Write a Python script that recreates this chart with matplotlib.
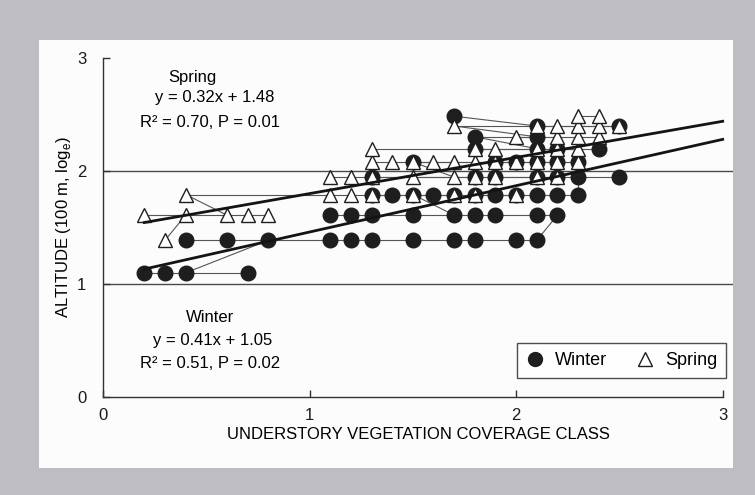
import numpy as np
import matplotlib
matplotlib.use("Agg")
import matplotlib.pyplot as plt
from matplotlib.lines import Line2D
from matplotlib.patches import Rectangle

plt.rcParams['font.family'] = ['Liberation Sans', 'DejaVu Sans']
plt.rcParams['mathtext.fontset'] = 'custom'
plt.rcParams['mathtext.rm'] = 'Liberation Sans'

winter_x = [0.2, 0.3, 0.4, 0.7,
            0.4, 0.6, 0.8, 1.1, 1.2, 1.3, 1.5, 1.7, 1.8, 2.0, 2.1,
            1.1, 1.2, 1.3, 1.5, 1.7, 1.8, 1.9, 2.1, 2.2,
            1.3, 1.4, 1.5, 1.6, 1.7, 1.8, 1.9, 2.0, 2.1, 2.2, 2.3,
            1.3, 1.8, 1.9, 2.1, 2.2, 2.3, 2.5,
            1.5, 1.9, 2.0, 2.1, 2.2, 2.3,
            1.8, 2.1, 2.2, 2.4,
            1.8, 2.1,
            2.1, 2.5,
            1.7]
winter_alt = [3] * 4 + [4] * 11 + [5] * 9 + [6] * 11 + [7] * 7 + [8] * 6 + [9] * 4 + [10] * 2 + [11] * 2 + [12] * 1

spring_x = [0.3,
            0.2, 0.4, 0.6, 0.7, 0.8,
            0.4, 1.1, 1.2, 1.3, 1.5, 1.7, 1.8, 2.0,
            1.1, 1.2, 1.3, 1.5, 1.7, 1.8, 1.9, 2.1, 2.2,
            1.3, 1.4, 1.5, 1.6, 1.7, 1.8, 1.9, 2.0, 2.1, 2.2, 2.3,
            1.3, 1.8, 1.9, 2.1, 2.2, 2.3,
            2.0, 2.2, 2.3, 2.4,
            1.7, 2.1, 2.2, 2.3, 2.4, 2.5,
            2.3, 2.4]
spring_alt = [4] * 1 + [5] * 5 + [6] * 8 + [7] * 9 + [8] * 11 + [9] * 6 + [10] * 4 + [11] * 6 + [12] * 2

# extra links between observations that are not on the same altitude row
winter_links = [((0.4, 3), (0.8, 4)), ((2.1, 4), (2.2, 5)), ((2.3, 6), (2.3, 7)),
                ((1.7, 12), (2.1, 11)), ((1.5, 6), (1.7, 5)), ((1.8, 10), (2.1, 9))]
spring_links = [((0.4, 6), (0.6, 5)), ((0.4, 5), (0.3, 4)), ((1.5, 8), (1.7, 7)),
                ((1.7, 11), (2.1, 10))]

# regressions
spring_fit = (0.32, 1.48)
winter_fit = (0.41, 1.05)
fit_range = [0.2, 3.0]

fig = plt.figure(figsize=(7.55, 4.95), dpi=100, facecolor='#bdbdc3')
fig.patches.append(Rectangle((39 / 755, 27 / 495), 694 / 755, 428 / 495,
                             transform=fig.transFigure, facecolor='#fcfcfd',
                             edgecolor='none', zorder=-5))

ax = fig.add_axes([103 / 755, 98 / 495, 630 / 755, 339 / 495])
ax.set_zorder(2)
ax.set_facecolor('none')
ax.set_xlim(0, 3.05)
ax.set_ylim(0, 3)

for g in [1, 2]:
    ax.axhline(g, color='#4a4a4a', lw=1.0, zorder=1)


def draw_rows(xs, alts, links):
    xs = np.array(xs)
    ys = np.log(np.array(alts, dtype=float))
    for y in np.unique(ys):
        sel = np.sort(xs[ys == y])
        if len(sel) > 1:
            ax.plot(sel, [y] * len(sel), color='#555555', lw=0.8, zorder=2)
    for (x0, a0), (x1, a1) in links:
        ax.plot([x0, x1], [np.log(a0), np.log(a1)], color='#555555', lw=0.8, zorder=2)
    return xs, ys


wx, wy = draw_rows(winter_x, winter_alt, winter_links)
sx, sy = draw_rows(spring_x, spring_alt, spring_links)

ax.plot(wx, wy, 'o', ms=10.5, color='#1e1e1e', mec='#1e1e1e', zorder=3)
ax.plot(sx, sy, '^', ms=10.5, mfc='white', mec='#1e1e1e', mew=1.0, zorder=4)

fx = np.array(fit_range)
ax.plot(fx, spring_fit[0] * fx + spring_fit[1], color='#141414', lw=2.0, zorder=5)
ax.plot(fx, winter_fit[0] * fx + winter_fit[1], color='#141414', lw=2.0, zorder=5)

fs = 12
ax.text(0.435, 2.83, 'Spring', ha='center', va='center', fontsize=fs)
ax.text(0.54, 2.65, 'y = 0.32x + 1.48', ha='center', va='center', fontsize=fs)
ax.text(0.52, 2.43, 'R² = 0.70, P = 0.01', ha='center', va='center', fontsize=fs)
ax.text(0.52, 0.70, 'Winter', ha='center', va='center', fontsize=fs)
ax.text(0.53, 0.50, 'y = 0.41x + 1.05', ha='center', va='center', fontsize=fs)
ax.text(0.52, 0.30, 'R² = 0.51, P = 0.02', ha='center', va='center', fontsize=fs)

for s in ['top', 'right']:
    ax.spines[s].set_visible(False)
ax.spines['bottom'].set_bounds(0, 3)
for s in ['left', 'bottom']:
    ax.spines[s].set_color('#333333')
    ax.spines[s].set_linewidth(1.0)

ax.set_xticks([0, 1, 2, 3])
ax.set_yticks([0, 1, 2, 3])
ax.tick_params(direction='in', length=5, width=1, color='#333333',
               labelsize=fs, labelcolor='#1a1a1a', pad=8)
ax.tick_params(axis='y', pad=12)

ax.set_xlabel('UNDERSTORY VEGETATION COVERAGE CLASS', fontsize=fs, labelpad=3)
ax.set_ylabel(r'ALTITUDE (100 m, log$_\mathregular{e}$)', fontsize=fs, labelpad=3)

handles = [Line2D([], [], ls='none', marker='o', ms=10, color='#1e1e1e'),
           Line2D([], [], ls='none', marker='^', ms=10, mfc='white', mec='#1e1e1e')]
leg = ax.legend(handles, ['Winter', 'Spring'], ncol=2, loc='lower left',
                bbox_to_anchor=(0.657, 0.056), borderaxespad=0, fancybox=False,
                edgecolor='#222222', fontsize=fs + 1, handlelength=1.0,
                handletextpad=0.6, columnspacing=1.6, borderpad=0.5)
leg.get_frame().set_linewidth(1.0)
leg.set_zorder(6)

fig.savefig('out.png', dpi=100, facecolor=fig.get_facecolor())
